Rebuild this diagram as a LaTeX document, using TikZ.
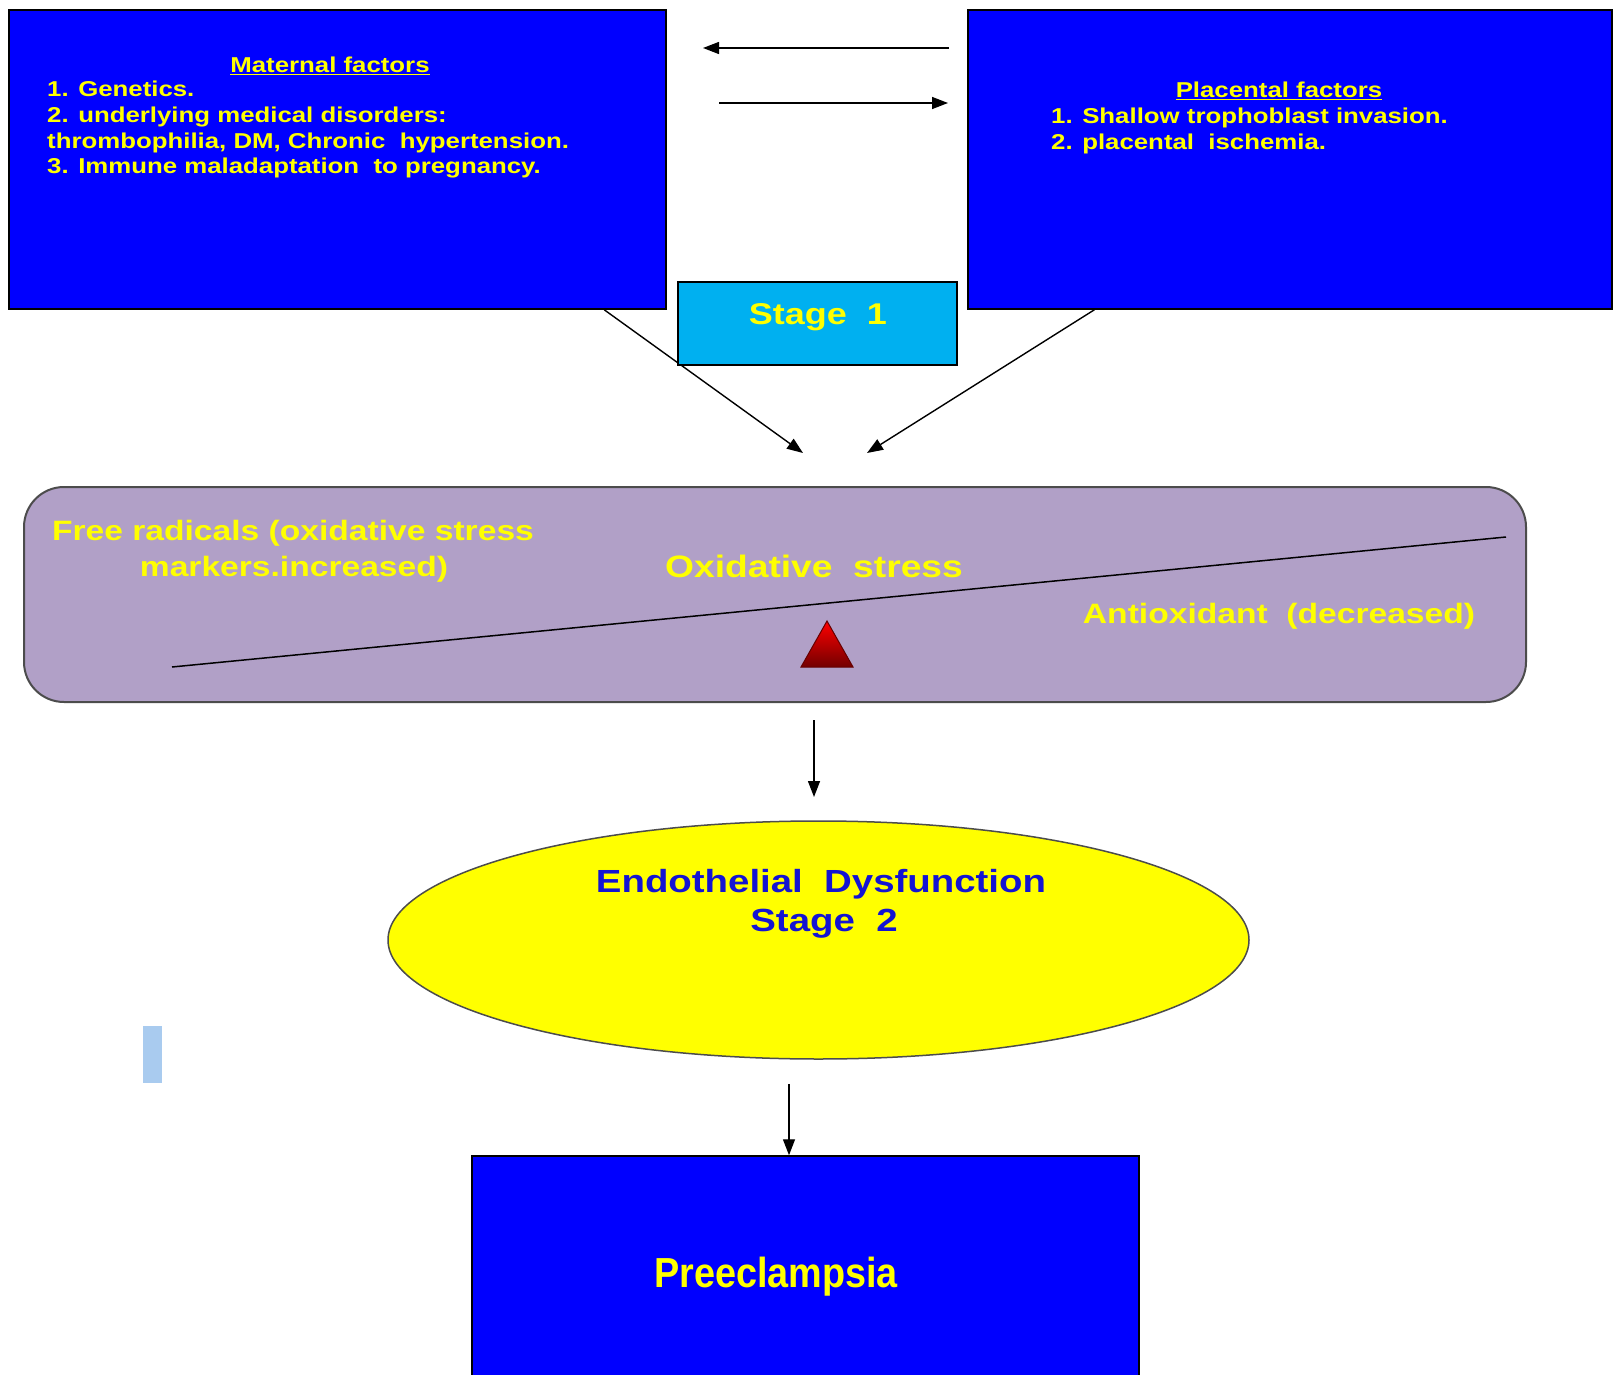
\documentclass[tikz,border=0pt]{standalone}
\usepackage{fontspec}
\setmainfont{Liberation Sans}[FakeStretch=1.2]
\newfontfamily\narrowfont{Liberation Sans}[FakeStretch=0.9]
\usetikzlibrary{shapes.geometric,arrows.meta,calc,positioning}
\definecolor{factorblue}{RGB}{0,0,255}
\definecolor{textyellow}{RGB}{255,255,0}
\definecolor{endoyellow}{RGB}{255,255,0}
\definecolor{stagecyan}{RGB}{0,176,240}
\definecolor{balancelilac}{RGB}{177,160,199}
\definecolor{endoblue}{RGB}{20,20,210}
\definecolor{markblue}{RGB}{169,203,239}
\tikzset{
  factorbox/.style={rectangle,draw=black,line width=1.5pt,fill=factorblue,inner sep=0pt},
  factortext/.style={text=textyellow,font=\fontsize{21.5}{25}\selectfont\bfseries,inner sep=0pt,anchor=base west},
  balancetext/.style={text=textyellow,font=\fontsize{28}{34}\selectfont\bfseries,inner sep=0pt,anchor=base},
  endotext/.style={text=endoblue,font=\fontsize{32}{38}\selectfont\bfseries,inner sep=0pt,anchor=base},
  flow/.style={-{Triangle[length=16pt,width=12pt]},line width=1.4pt}
}

\begin{document}
\begin{tikzpicture}[x=1pt,y=-1pt]

    % -- Page frame (1615 x 1375) --
    \clip (0,0) rectangle (1615,1375);
    \fill[white] (0,0) rectangle (1615,1375);

    % -- Factor boxes on the top row --
    \node[factorbox,minimum width=657pt,minimum height=299pt] (maternal) at (337.5,159.5) {};
    \node[factorbox,minimum width=644pt,minimum height=299pt] (placental) at (1290,159.5) {};

    % Maternal factors text
    \node[factortext,anchor=base] (mattitle) at (330,73) {\underline{Maternal factors}};
    \node[factortext] (mat1) at (47,97) {1. Genetics.};
    \node[factortext] (mat2) at (47,123) {2. underlying medical disorders:};
    \node[factortext] (mat3) at (47,149) {thrombophilia, DM, Chronic~~hypertension.};
    \node[factortext] (mat4) at (47,174) {3. Immune maladaptation~~to pregnancy.};

    % Placental factors text
    \node[factortext,anchor=base] (platitle) at (1279,98) {\underline{Placental factors}};
    \node[factortext] (pla1) at (1051,124) {1. Shallow trophoblast invasion.};
    \node[factortext] (pla2) at (1051,150) {2. placental~~ischemia.};

    % -- Arrows between the two factor boxes --
    \coordinate (swapA) at (949,48);
    \coordinate (swapB) at (703,48);
    \coordinate (swapC) at (719,103);
    \coordinate (swapD) at (948,103);
    \draw[flow] (swapA) -- (swapB);
    \draw[flow] (swapC) -- (swapD);

    % -- Arrows down to the balance --
    \coordinate (pushL) at (803,453);
    \coordinate (pushR) at (867,453);
    \draw[flow] ($(maternal.south west)!0.905!(maternal.south east)$) -- (pushL);
    \draw[flow] ($(placental.south west)!0.197!(placental.south east)$) -- (pushR);

    % -- Stage 1 label box --
    \node[rectangle,draw=black,line width=1.5pt,fill=stagecyan,minimum width=279pt,minimum height=83pt] (stage1) at (817.5,323.5) {};
    \node[text=textyellow,font=\fontsize{30}{36}\selectfont\bfseries,inner sep=0pt,anchor=base] (stagelabel) at (818,324) {Stage~~1};

    % -- Oxidative stress balance --
    \node[rectangle,rounded corners=40pt,draw=black!70,line width=2pt,fill=balancelilac,minimum width=1502pt,minimum height=215pt] (balance) at (775,594.5) {};
    \coordinate (leverL) at (172,667);
    \coordinate (leverR) at (1506,537);
    \draw[line width=1.5pt] (leverL) -- (leverR);
    \shade[top color=red,bottom color=red!45!black,draw=red!40!black,line width=1pt]
      (827,621) -- (853,667) -- (801,667) -- cycle;

    \node[balancetext] (radA) at (293,540) {Free radicals (oxidative stress};
    \node[balancetext] (radB) at (294,576) {markers.increased)};
    \node[balancetext,font=\fontsize{31}{36}\selectfont\bfseries] (oxid) at (814,577) {Oxidative~~stress};
    \node[balancetext] (antiox) at (1279,623) {Antioxidant~~(decreased)};

    % -- Endothelial dysfunction (stage 2) --
    \draw[flow] ($(balance.south)+(39,17)$) -- ($(balance.south)+(39,94)$);
    \node[ellipse,draw=black!70,line width=1.5pt,fill=endoyellow,minimum width=861pt,minimum height=238pt,inner sep=0pt] (endo) at (818.5,940) {};
    \node[endotext] (endoA) at (821,892) {Endothelial~~Dysfunction};
    \node[endotext] (endoB) at (824,931) {Stage~~2};

    % small light blue mark
    \fill[markblue] (143,1026) rectangle (162,1083);

    % -- Preeclampsia --
    \node[factorbox,minimum width=667pt,minimum height=260pt] (preec) at (805.5,1286) {};
    \draw[flow] ($(endo.south)+(-29.5,24)$) -- ($(preec.north)+(-16.5,0)$);
    \node[text=textyellow,font=\narrowfont\fontsize{42}{48}\selectfont\bfseries,inner sep=0pt,anchor=base] (preelabel) at (776,1287) {Preeclampsia};

\end{tikzpicture}
\end{document}
